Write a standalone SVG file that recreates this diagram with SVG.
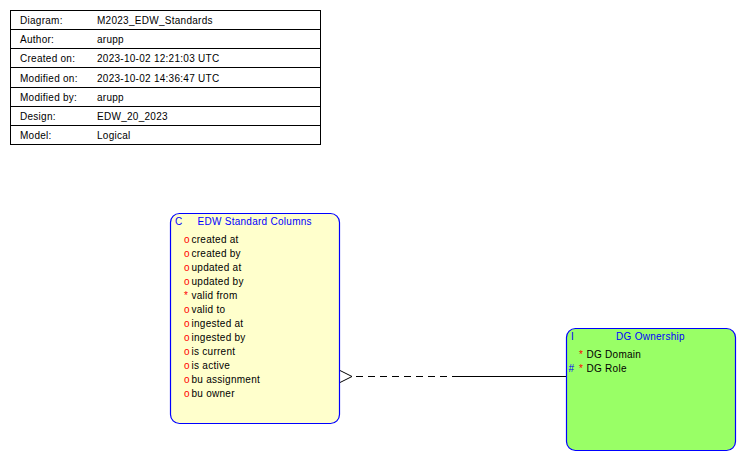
<svg xmlns="http://www.w3.org/2000/svg" width="746" height="462" viewBox="0 0 746 462">
  <style>
    text { font-family: "Liberation Sans", Arial, sans-serif; font-size: 10px; letter-spacing: 0.27px; fill: #000; }
    .title { fill: #0000ff; }
    .opt { fill: #ff0000; }
    .key { fill: #0000ff; }
    .grid { stroke: #000; stroke-width: 1; fill: none; }
    .entity { stroke: #0000ff; stroke-width: 1.2; }
    .rel { stroke: #000; stroke-width: 1; fill: none; }
  </style>

  <!-- diagram properties table -->
  <g id="properties">
    <rect class="grid" x="10.5" y="10.5" width="310" height="134" fill="#fff"/>
    <path class="grid" d="M10.5 29.5H320.5M10.5 48.5H320.5M10.5 67.5H320.5M10.5 87.5H320.5M10.5 106.5H320.5M10.5 125.5H320.5"/>
    <text x="20" y="24">Diagram:</text><text x="97" y="24">M2023_EDW_Standards</text>
    <text x="20" y="43">Author:</text><text x="97" y="43">arupp</text>
    <text x="20" y="62">Created on:</text><text x="97" y="62">2023-10-02 12:21:03 UTC</text>
    <text x="20" y="82">Modified on:</text><text x="97" y="82">2023-10-02 14:36:47 UTC</text>
    <text x="20" y="101">Modified by:</text><text x="97" y="101">arupp</text>
    <text x="20" y="120">Design:</text><text x="97" y="120">EDW_20_2023</text>
    <text x="20" y="139">Model:</text><text x="97" y="139">Logical</text>
  </g>

  <!-- relationship -->
  <g id="connectors">
    <path class="rel" stroke="#333" d="M340 370.5L352 376.5L340 382.5"/>
    <line class="rel" x1="356" y1="376.5" x2="453" y2="376.5" stroke-dasharray="7 5"/>
    <line class="rel" x1="453" y1="376.5" x2="566" y2="376.5"/>
  </g>

  <!-- entity: EDW Standard Columns -->
  <g id="edw-standard-columns">
    <rect class="entity" x="170.5" y="213.5" width="169" height="210" rx="9" fill="#ffffcc"/>
    <text class="title" x="175" y="225">C</text>
    <text class="title" x="197.5" y="225">EDW Standard Columns</text>
    <text class="opt" x="184" y="243">o</text><text x="191.5" y="243">created at</text>
    <text class="opt" x="184" y="257">o</text><text x="191.5" y="257">created by</text>
    <text class="opt" x="184" y="271">o</text><text x="191.5" y="271">updated at</text>
    <text class="opt" x="184" y="285">o</text><text x="191.5" y="285">updated by</text>
    <text class="opt" x="184" y="299">*</text><text x="191.5" y="299">valid from</text>
    <text class="opt" x="184" y="313">o</text><text x="191.5" y="313">valid to</text>
    <text class="opt" x="184" y="327">o</text><text x="191.5" y="327">ingested at</text>
    <text class="opt" x="184" y="341">o</text><text x="191.5" y="341">ingested by</text>
    <text class="opt" x="184" y="355">o</text><text x="191.5" y="355">is current</text>
    <text class="opt" x="184" y="369">o</text><text x="191.5" y="369">is active</text>
    <text class="opt" x="184" y="383">o</text><text x="191.5" y="383">bu assignment</text>
    <text class="opt" x="184" y="397">o</text><text x="191.5" y="397">bu owner</text>
  </g>

  <!-- entity: DG Ownership -->
  <g id="dg-ownership">
    <rect class="entity" x="566.5" y="328.5" width="169" height="122" rx="9" fill="#99ff66"/>
    <text class="title" x="571" y="340">I</text>
    <text class="title" x="650.5" y="340" text-anchor="middle">DG Ownership</text>
    <text class="opt" x="579" y="358">*</text><text x="586.5" y="358">DG Domain</text>
    <text class="key" x="568.5" y="372">#</text><text class="opt" x="579" y="372">*</text><text x="586.5" y="372">DG Role</text>
  </g>
</svg>
